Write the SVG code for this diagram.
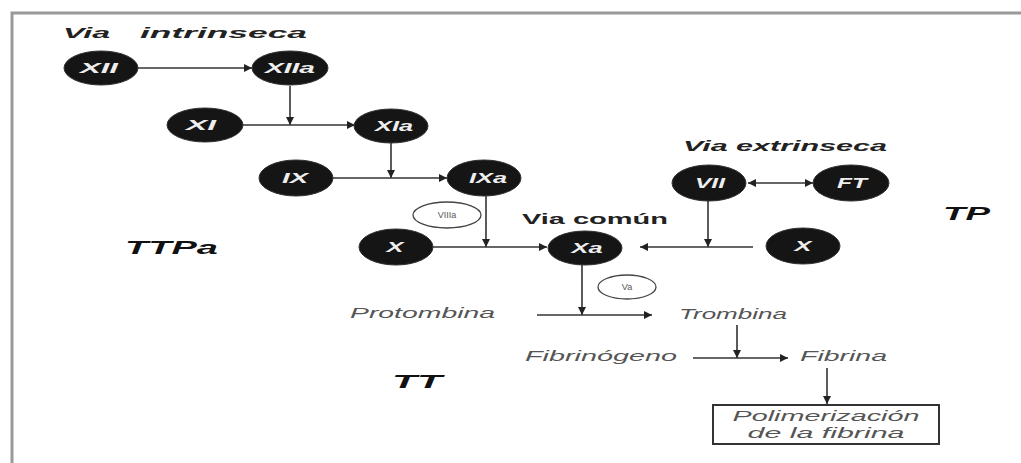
<svg xmlns="http://www.w3.org/2000/svg" width="1021" height="463" viewBox="0 0 1021 463">
<defs>
<marker id="ah" viewBox="0 0 10 10" refX="10" refY="5" markerWidth="10" markerHeight="8" markerUnits="userSpaceOnUse" orient="auto"><path d="M0,0 L10,5 L0,10 Z" fill="#222"/></marker>
<marker id="ahs" viewBox="0 0 10 10" refX="0" refY="5" markerWidth="10" markerHeight="8" markerUnits="userSpaceOnUse" orient="auto"><path d="M10,0 L0,5 L10,10 Z" fill="#222"/></marker>
</defs>
<style>
.n{fill:#151515;stroke:#333;stroke-width:1}
.nt{font-family:"Liberation Sans",Arial,sans-serif;font-weight:bold;font-style:italic;font-size:14px;fill:#eee;text-anchor:middle}
.w{fill:#fff;stroke:#444;stroke-width:1.3}
.wt{font-family:"Liberation Sans",Arial,sans-serif;font-size:9px;fill:#555;text-anchor:middle}
.h{font-family:"Liberation Sans",Arial,sans-serif;font-weight:bold;font-style:italic;font-size:15px;fill:#222}
.hb{font-family:"Liberation Sans",Arial,sans-serif;font-weight:bold;font-size:15px;fill:#222}
.big{font-family:"Liberation Sans",Arial,sans-serif;font-weight:bold;font-style:italic;font-size:19px;fill:#111}
.g{font-family:"Liberation Sans",Arial,sans-serif;font-style:italic;font-size:14px;fill:#555}
.c line,.c path{stroke:#333;stroke-width:1.6;fill:none}
</style>
<rect width="1021" height="463" fill="#fff"/>
<g id="frame" fill="none" stroke="#999" stroke-width="3"><path d="M12,463 L12,13 L1021,13"/></g>

<text class="h" y="38"><tspan x="63" textLength="47" lengthAdjust="spacingAndGlyphs">Via</tspan><tspan x="140" textLength="167" lengthAdjust="spacingAndGlyphs">intrinseca</tspan></text>
<text class="h" x="683" y="151" textLength="204" lengthAdjust="spacingAndGlyphs">Via extrinseca</text>
<text class="hb" x="522" y="224" textLength="146" lengthAdjust="spacingAndGlyphs">Via común</text>
<text class="big" x="943" y="220" textLength="47" lengthAdjust="spacingAndGlyphs">TP</text>
<text class="big" x="125" y="254" textLength="93" lengthAdjust="spacingAndGlyphs">TTPa</text>
<text class="big" x="392" y="388" textLength="50" lengthAdjust="spacingAndGlyphs">TT</text>
<text class="g" x="350" y="318" textLength="145" lengthAdjust="spacingAndGlyphs">Protombina</text>
<text class="g" x="679" y="319" textLength="108" lengthAdjust="spacingAndGlyphs">Trombina</text>
<text class="g" x="525" y="361" textLength="152" lengthAdjust="spacingAndGlyphs">Fibrinógeno</text>
<text class="g" x="800" y="361" textLength="87" lengthAdjust="spacingAndGlyphs">Fibrina</text>

<g class="c">
<line x1="138" y1="68" x2="252" y2="68" marker-end="url(#ah)"/>
<line x1="290" y1="86" x2="290" y2="125" marker-end="url(#ah)"/>
<line x1="243" y1="125" x2="355" y2="125" marker-end="url(#ah)"/>
<line x1="391" y1="143" x2="391" y2="178" marker-end="url(#ah)"/>
<line x1="333" y1="178" x2="447" y2="178" marker-end="url(#ah)"/>
<line x1="486" y1="196" x2="486" y2="247" marker-end="url(#ah)"/>
<line x1="433" y1="247" x2="547" y2="247" marker-end="url(#ah)"/>
<line x1="748" y1="183" x2="813" y2="183" marker-start="url(#ahs)" marker-end="url(#ah)"/>
<line x1="708" y1="201" x2="708" y2="247" marker-end="url(#ah)"/>
<line x1="753" y1="247" x2="640" y2="247" marker-end="url(#ah)"/>
<line x1="582" y1="264" x2="582" y2="315" marker-end="url(#ah)"/>
<line x1="537" y1="315" x2="652" y2="315" marker-end="url(#ah)"/>
<line x1="737" y1="325" x2="737" y2="358" marker-end="url(#ah)"/>
<line x1="693" y1="358" x2="788" y2="358" marker-end="url(#ah)"/>
<line x1="827" y1="368" x2="827" y2="404" marker-end="url(#ah)"/>
</g>

<g id="XII"><ellipse class="n" cx="101" cy="68" rx="37" ry="17"/><text class="nt" x="99" y="73" textLength="38" lengthAdjust="spacingAndGlyphs">XII</text></g>
<g id="XIIa"><ellipse class="n" cx="290" cy="68" rx="38" ry="17"/><text class="nt" x="290" y="73" textLength="50" lengthAdjust="spacingAndGlyphs">XIIa</text></g>
<g id="XI"><ellipse class="n" cx="205" cy="125" rx="38" ry="17"/><text class="nt" x="201" y="130" textLength="30" lengthAdjust="spacingAndGlyphs">XI</text></g>
<g id="XIa"><ellipse class="n" cx="391" cy="126" rx="37" ry="17"/><text class="nt" x="394" y="131" textLength="38" lengthAdjust="spacingAndGlyphs">XIa</text></g>
<g id="IX"><ellipse class="n" cx="296" cy="178" rx="37" ry="18"/><text class="nt" x="295" y="183" textLength="26" lengthAdjust="spacingAndGlyphs">IX</text></g>
<g id="IXa"><ellipse class="n" cx="484" cy="178" rx="37" ry="18"/><text class="nt" x="488" y="183" textLength="38" lengthAdjust="spacingAndGlyphs">IXa</text></g>
<g id="VIIIa"><ellipse class="w" cx="447" cy="215" rx="34" ry="13"/><text class="wt" x="447" y="218">VIIIa</text></g>
<g id="X1"><ellipse class="n" cx="396" cy="247" rx="37" ry="18"/><text class="nt" x="395" y="252" textLength="17" lengthAdjust="spacingAndGlyphs">X</text></g>
<g id="Xa"><ellipse class="n" cx="585" cy="248" rx="37" ry="17"/><text class="nt" x="587" y="253" textLength="31" lengthAdjust="spacingAndGlyphs">Xa</text></g>
<g id="VII"><ellipse class="n" cx="709" cy="183" rx="37" ry="18"/><text class="nt" x="710" y="188" textLength="30" lengthAdjust="spacingAndGlyphs">VII</text></g>
<g id="FT"><ellipse class="n" cx="851" cy="183" rx="38" ry="18"/><text class="nt" x="852" y="188" textLength="30" lengthAdjust="spacingAndGlyphs">FT</text></g>
<g id="X2"><ellipse class="n" cx="803" cy="246" rx="37" ry="18"/><text class="nt" x="803" y="251" textLength="17" lengthAdjust="spacingAndGlyphs">X</text></g>
<g id="Va"><ellipse class="w" cx="627" cy="287" rx="29" ry="12"/><text class="wt" x="627" y="290">Va</text></g>
<g id="Polimerizacion">
<rect x="713" y="405" width="226" height="39" fill="#fff" stroke="#333" stroke-width="2"/>
<text class="g" x="826" y="421" text-anchor="middle" textLength="187" lengthAdjust="spacingAndGlyphs">Polimerización</text>
<text class="g" x="826" y="438" text-anchor="middle" textLength="157" lengthAdjust="spacingAndGlyphs">de la fibrina</text>
</g>
</svg>
